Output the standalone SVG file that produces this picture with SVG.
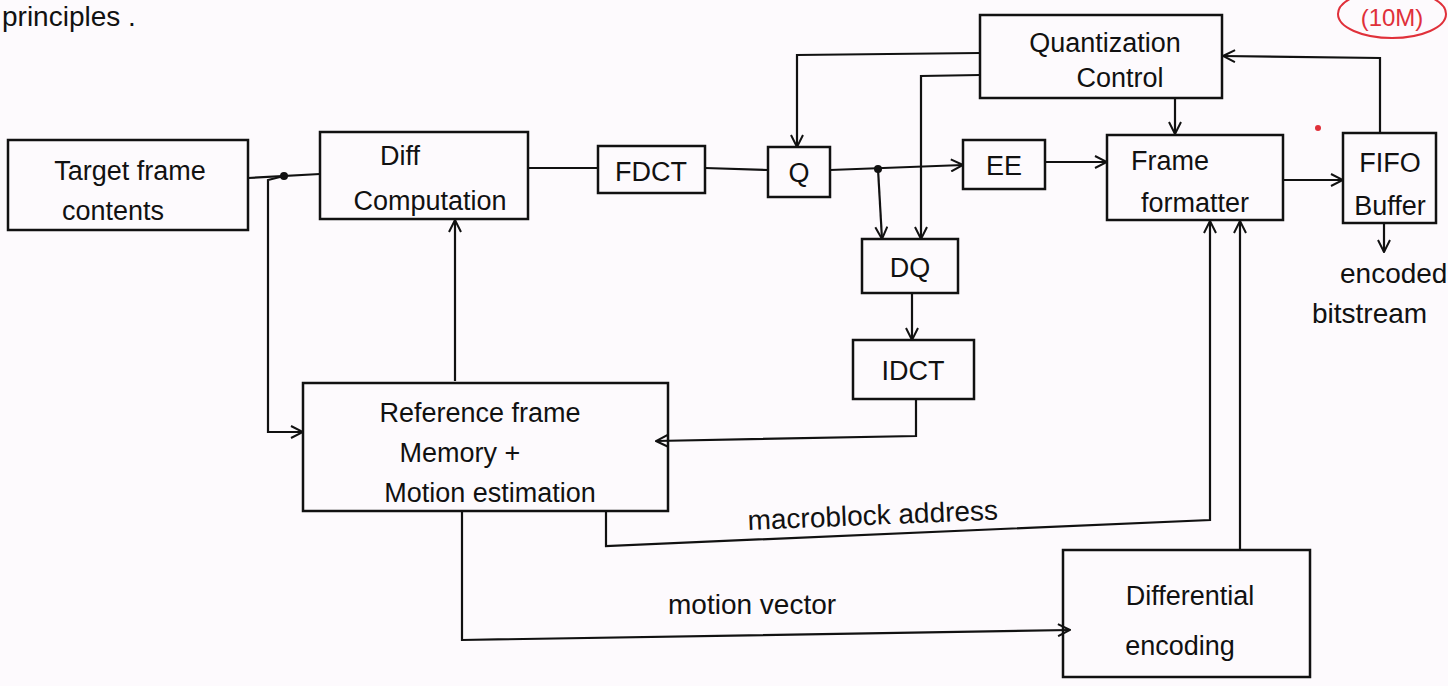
<svg xmlns="http://www.w3.org/2000/svg" width="1448" height="686" viewBox="0 0 1448 686">
<defs>
<marker id="arr" viewBox="0 0 14 14" refX="13" refY="7" markerWidth="14" markerHeight="14" markerUnits="userSpaceOnUse" orient="auto">
<path d="M1,1 L13,7 L1,13" fill="none" stroke="#111" stroke-width="2"/>
</marker>
<style>
.box{fill:none;stroke:#111;stroke-width:2.5}
.ln{fill:none;stroke:#111;stroke-width:2.2}
.t{font-family:"Liberation Sans",Arial,sans-serif;font-size:27px;fill:#111;text-anchor:middle}
.tl{font-family:"Liberation Sans",Arial,sans-serif;font-size:28px;fill:#111}
</style>
</defs>
<rect width="1448" height="686" fill="#fdfafd"/>
<text class="tl" x="2" y="26" font-size="30">principles .</text>
<g id="mark">
<ellipse cx="1392" cy="14" rx="54" ry="24" fill="none" stroke="#e0303a" stroke-width="2"/>
<text x="1392" y="26" font-family="Liberation Sans,Arial,sans-serif" font-size="24" fill="#e0303a" text-anchor="middle">(10M)</text>
<circle cx="1318" cy="128" r="3" fill="#e0303a"/>
</g>
<g id="connectors">
<path class="ln" d="M248,178 L320,174"/>
<circle cx="284" cy="176" r="4" fill="#111"/>
<path class="ln" d="M284,176 L268,180 L268,432 L303,432" marker-end="url(#arr)"/>
<path class="ln" d="M528,168 L598,168"/>
<path class="ln" d="M705,168 L768,170"/>
<path class="ln" d="M830,170 L963,165" marker-end="url(#arr)"/>
<circle cx="878" cy="169" r="4" fill="#111"/>
<path class="ln" d="M878,169 L882,239" marker-end="url(#arr)"/>
<path class="ln" d="M1045,162 L1107,162" marker-end="url(#arr)"/>
<path class="ln" d="M1283,180 L1343,180" marker-end="url(#arr)"/>
<path class="ln" d="M1384,223 L1384,252" marker-end="url(#arr)"/>
<path class="ln" d="M1380,133 L1380,58 L1223,56" marker-end="url(#arr)"/>
<path class="ln" d="M1175,99 L1175,134" marker-end="url(#arr)"/>
<path class="ln" d="M980,53 L797,55 L797,147" marker-end="url(#arr)"/>
<path class="ln" d="M980,75 L921,76 L921,239" marker-end="url(#arr)"/>
<path class="ln" d="M912,293 L912,340" marker-end="url(#arr)"/>
<path class="ln" d="M916,399 L916,436 L656,441" marker-end="url(#arr)"/>
<path class="ln" d="M455,381 L455,220" marker-end="url(#arr)"/>
<path class="ln" d="M606,511 L606,546 L1210,520 L1210,221" marker-end="url(#arr)"/>
<path class="ln" d="M462,511 L462,640 L1070,630" marker-end="url(#arr)"/>
<path class="ln" d="M1240,550 L1240,221" marker-end="url(#arr)"/>
<text class="tl" x="748" y="530" font-size="29" transform="rotate(-2.4 748 530)">macroblock address</text>
<text class="tl" x="668" y="614" font-size="30">motion vector</text>
<text class="tl" x="1340" y="283">encoded</text>
<text class="tl" x="1312" y="323">bitstream</text>
</g>
<g id="target"><rect class="box" x="8" y="140" width="240" height="90"/><text class="t" x="130" y="180">Target frame</text><text class="t" x="113" y="220">contents</text></g>
<g id="diff"><rect class="box" x="320" y="132" width="208" height="87"/><text class="t" x="400" y="165">Diff</text><text class="t" x="430" y="210">Computation</text></g>
<g id="fdct"><rect class="box" x="598" y="146" width="107" height="47"/><text class="t" x="651" y="181">FDCT</text></g>
<g id="q"><rect class="box" x="768" y="147" width="62" height="50"/><text class="t" x="799" y="182">Q</text></g>
<g id="ee"><rect class="box" x="963" y="140" width="82" height="49"/><text class="t" x="1004" y="175">EE</text></g>
<g id="ff"><rect class="box" x="1107" y="135" width="176" height="85"/><text class="t" x="1170" y="170">Frame</text><text class="t" x="1195" y="212">formatter</text></g>
<g id="fifo"><rect class="box" x="1343" y="133" width="93" height="90"/><text class="t" x="1390" y="172">FIFO</text><text class="t" x="1390" y="215">Buffer</text></g>
<g id="qc"><rect class="box" x="980" y="15" width="242" height="83"/><text class="t" x="1105" y="52">Quantization</text><text class="t" x="1120" y="87">Control</text></g>
<g id="dq"><rect class="box" x="862" y="239" width="96" height="54"/><text class="t" x="910" y="277">DQ</text></g>
<g id="idct"><rect class="box" x="853" y="340" width="121" height="59"/><text class="t" x="913" y="380">IDCT</text></g>
<g id="ref"><rect class="box" x="303" y="383" width="365" height="128"/><text class="t" x="480" y="422">Reference frame</text><text class="t" x="460" y="462">Memory +</text><text class="t" x="490" y="502">Motion estimation</text></g>
<g id="denc"><rect class="box" x="1063" y="550" width="247" height="127"/><text class="t" x="1190" y="605">Differential</text><text class="t" x="1180" y="655">encoding</text></g>
</svg>
